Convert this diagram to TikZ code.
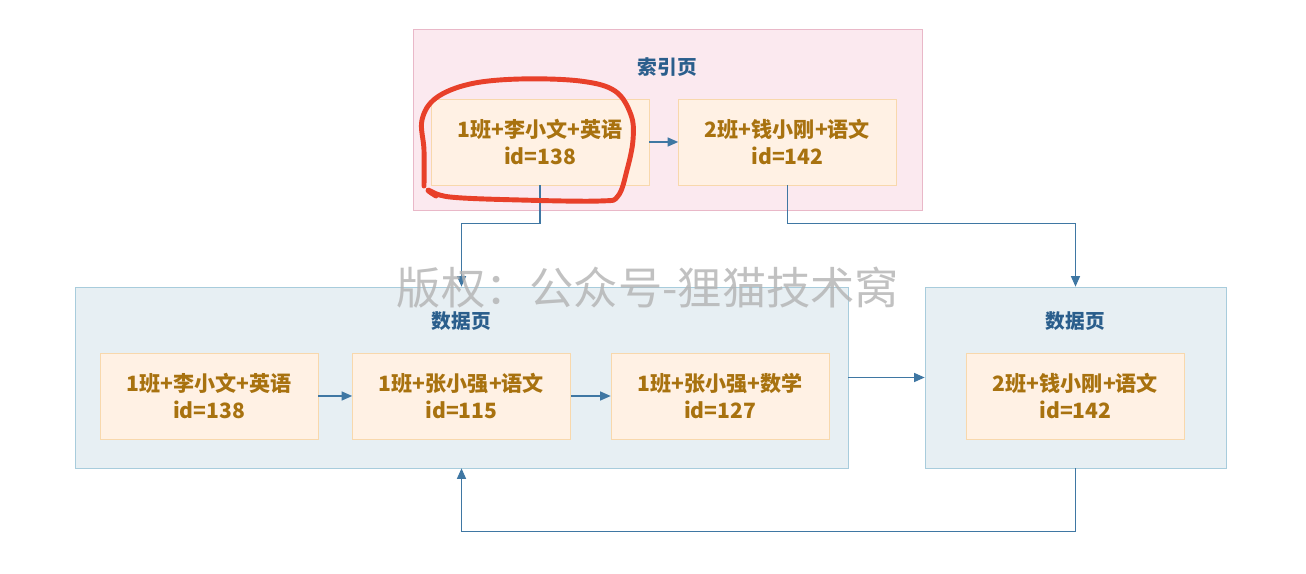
\documentclass[tikz,border=0pt]{standalone}
\usepackage{fontspec}
\setmainfont{Noto Sans CJK SC}
\usetikzlibrary{arrows.meta,positioning}
\definecolor{idxFill}{HTML}{FBE9EF}
\definecolor{idxLine}{HTML}{E9B8C8}
\definecolor{pageFill}{HTML}{E7EFF3}
\definecolor{pageLine}{HTML}{A8CCDC}
\definecolor{recFill}{HTML}{FFF1E4}
\definecolor{recLine}{HTML}{F8D8AC}
\definecolor{recText}{HTML}{A8720F}
\definecolor{titleBlue}{HTML}{2A5E8C}
\definecolor{linkBlue}{HTML}{3F77A3}
\definecolor{markRed}{HTML}{E8402A}

\begin{document}
\begin{tikzpicture}[
  x=0.02cm,y=-0.02cm,
  idxpage/.style={draw=idxLine,fill=idxFill,minimum width=10.18cm,minimum height=3.62cm,inner sep=0pt},
  datapage/.style={draw=pageLine,fill=pageFill,minimum height=3.62cm,inner sep=0pt},
  record/.style={draw=recLine,fill=recFill,text=recText,align=center,minimum width=4.36cm,minimum height=1.72cm,inner sep=0pt,font=\bfseries\fontsize{12}{14.9}\selectfont},
  title/.style={text=titleBlue,font=\bfseries\fontsize{11.2}{13}\selectfont},
  arrow/.style={-{Triangle[length=2.1mm,width=1.8mm]},line width=0.7pt,draw=linkBlue},
  watermark/.style={text=black!30,opacity=0.8,font=\fontsize{25.2}{28}\selectfont}
]
\useasboundingbox (0,0) rectangle (1306,574);

% pages
\node[idxpage] (idx) at (667.5,119.5) {};
\node[datapage,minimum width=15.46cm] (dp1) at (461.5,377.5) {};
\node[datapage,minimum width=6.02cm] (dp2) at (1075.5,377.5) {};
\node[title] (idxtitle) at (667.5,67) {索引页};
\node[title] (dp1title) at (461.5,321) {数据页};
\node[title] (dp2title) at (1075.5,321) {数据页};

% records
\node[record] (i1) at (540,142) {1班+李小文+英语\\id=138};
\node[record] (i2) at (787.5,142) {2班+钱小刚+语文\\id=142};
\node[record] (d1) at (209,396) {1班+李小文+英语\\id=138};
\node[record] (d2) at (461.5,396) {1班+张小强+语文\\id=115};
\node[record] (d3) at (720,396) {1班+张小强+数学\\id=127};
\node[record] (e1) at (1075.5,396) {2班+钱小刚+语文\\id=142};

% links
\draw[arrow] (i1) -- (i2);
\draw[arrow] (d1) -- (d2);
\draw[arrow] (d2) -- (d3);
\draw[arrow] (dp1) -- (dp2);
\draw[arrow] (i1.south) -- ++(0,38) -| (dp1.north);
\draw[arrow] (i2.south) -- ++(0,38) -| (dp2.north);
\draw[arrow] (dp2.south) -- ++(0,63) -| (dp1.south);

\node[watermark] (wm) at (648,288) {版权：公众号-狸猫技术窝};

% hand-drawn mark
\draw[markRed,line width=2.8pt,line cap=round,line join=round]
  plot[smooth,tension=0.6] coordinates {(424,186) (424,150) (422,120) (436,98) (470,84) (520,79) (580,81) (615,91) (631,115) (633,140) (627,170) (618,196) (600,201) (520,200) (450,197) (428,190) (436,196)};
\end{tikzpicture}
\end{document}
